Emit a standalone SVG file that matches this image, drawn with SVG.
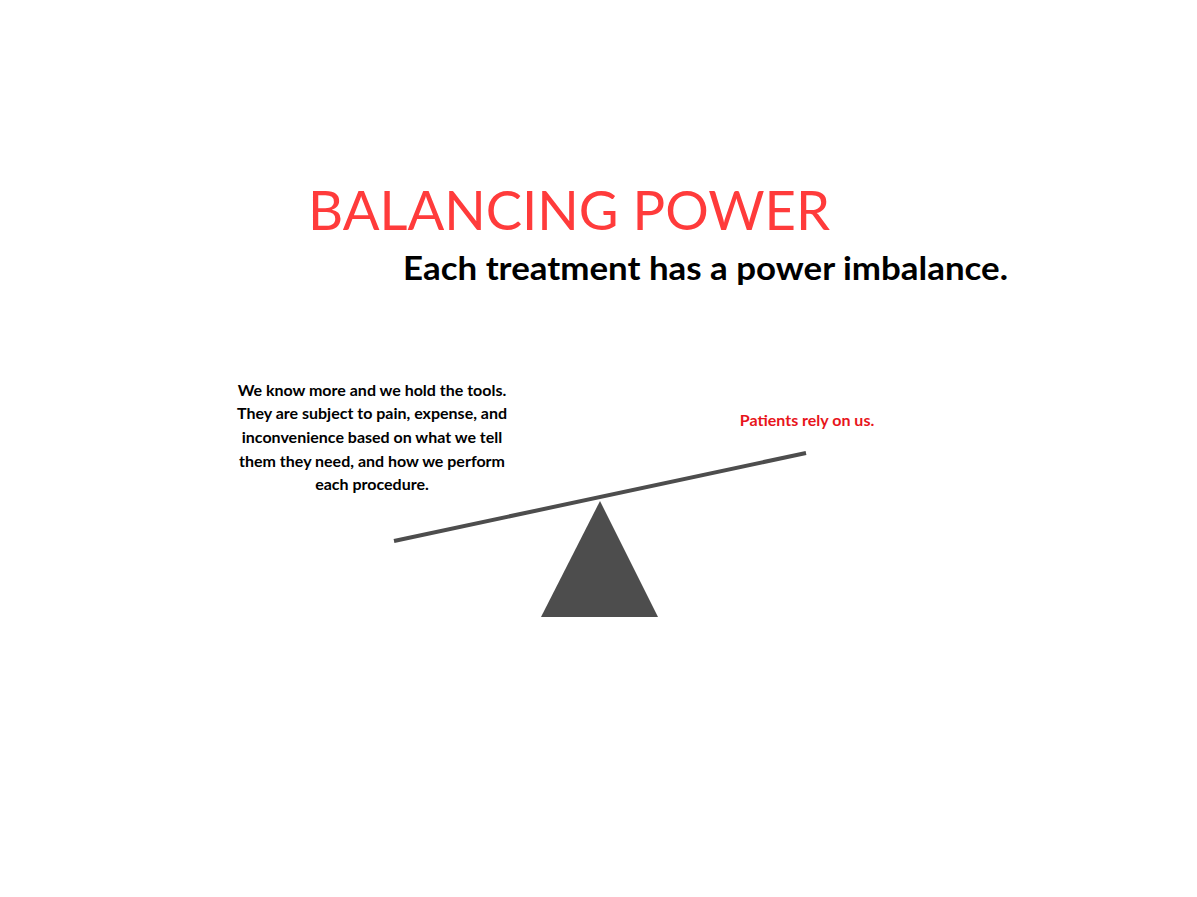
<svg xmlns="http://www.w3.org/2000/svg" width="1197" height="897" viewBox="0 0 1197 897">
<style>
.t{font-family:Lato,"Open Sans","Liberation Sans",sans-serif}
.b{font-family:Lato,"Open Sans","Liberation Sans",sans-serif;font-weight:bold;font-size:16px;text-anchor:middle}
</style>
<rect width="1197" height="897" fill="#fff"/>
<g id="title"><text class="t" x="308" y="230" font-size="54" fill="#FF3B3B" textLength="522" lengthAdjust="spacingAndGlyphs">BALANCING POWER</text></g>
<g id="subtitle"><text class="t" x="403" y="280" font-size="32" font-weight="bold" fill="#000" textLength="605" lengthAdjust="spacingAndGlyphs">Each treatment has a power imbalance.</text></g>
<g id="left-text" fill="#000">
<text class="b" x="372" y="396">We know more and we hold the tools.</text>
<text class="b" x="372" y="419">They are subject to pain, expense, and</text>
<text class="b" x="372" y="443">inconvenience based on what we tell</text>
<text class="b" x="372" y="467">them they need, and how we perform</text>
<text class="b" x="372" y="490">each procedure.</text>
</g>
<g id="right-text"><text class="b" x="807" y="426" fill="#E8141B">Patients rely on us.</text></g>
<g id="seesaw">
<line x1="394" y1="541" x2="806" y2="453" stroke="#4d4d4d" stroke-width="4"/>
<polygon points="600,501 541,617 658,617" fill="#4d4d4d"/>
</g>
</svg>
